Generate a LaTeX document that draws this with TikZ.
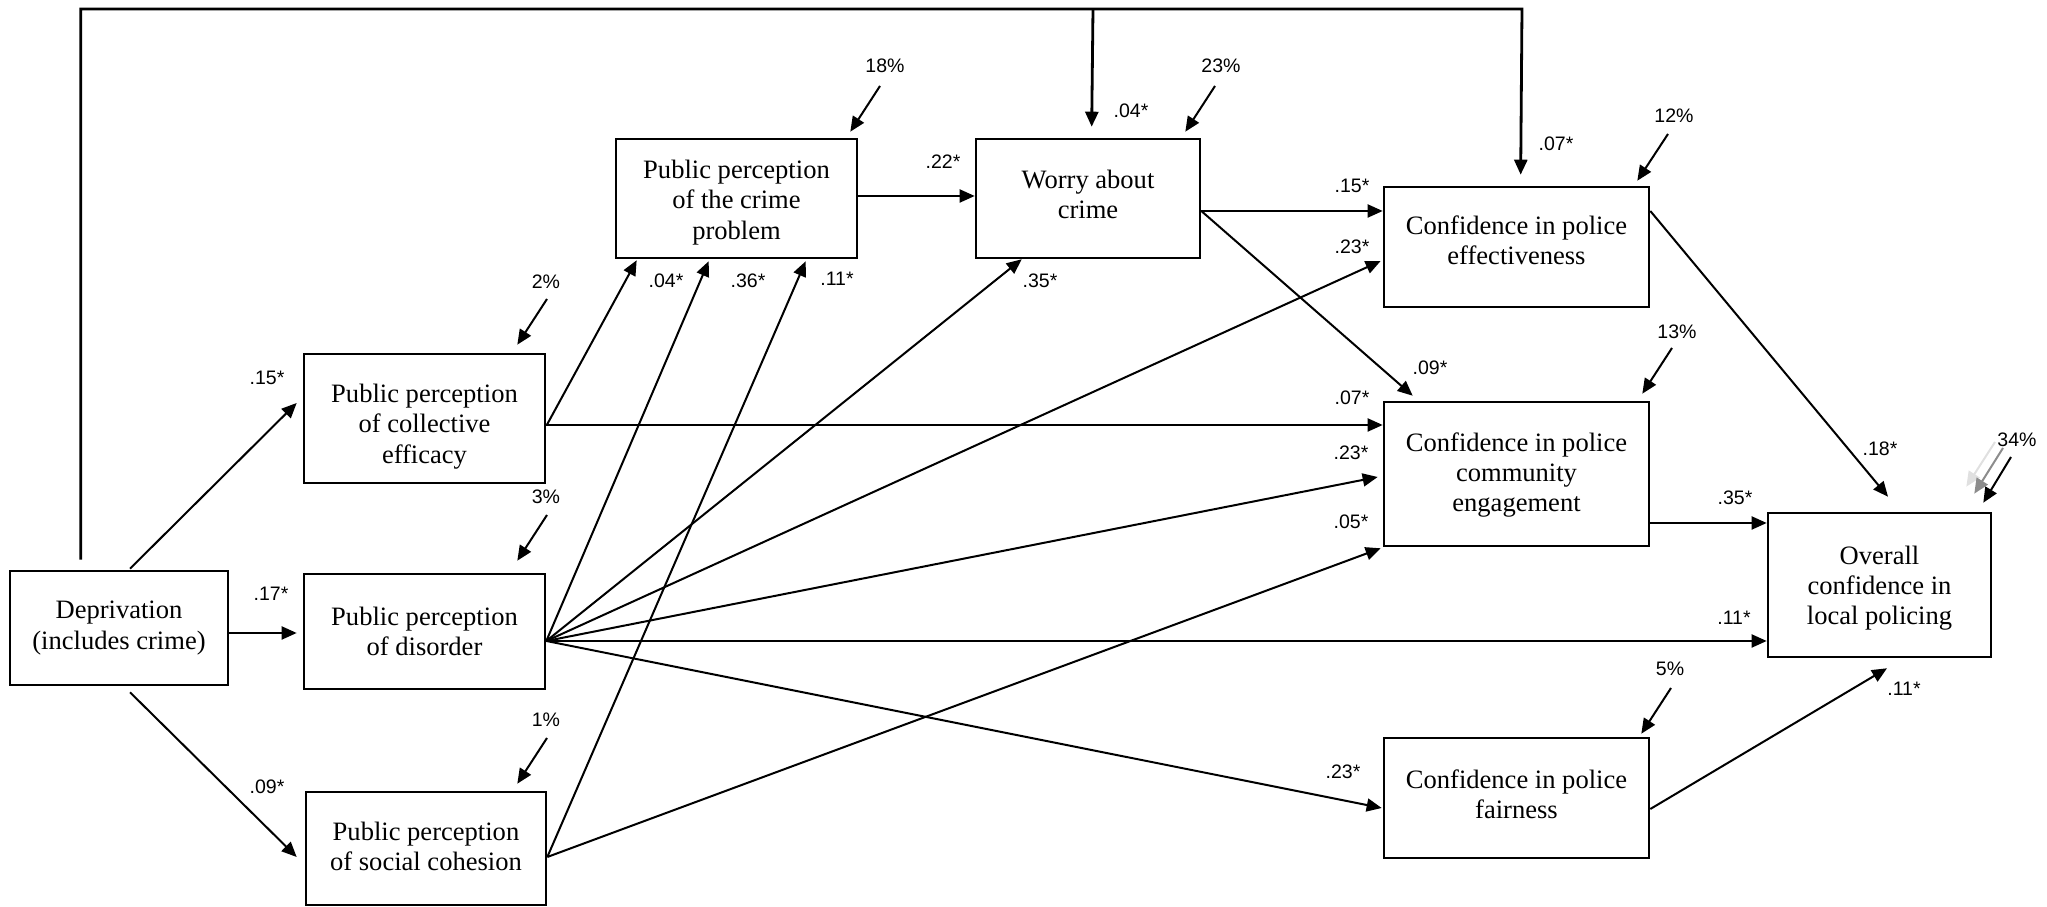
\documentclass[tikz,border=0pt]{standalone}
\usepackage{fontspec}
\setmainfont{Liberation Serif}
\newfontfamily\labfont{Liberation Sans}
\usetikzlibrary{arrows.meta,calc}
\begin{document}
\begin{tikzpicture}[x=0.01cm,y=-0.01cm,
  box/.style={draw,line width=0.025cm,inner sep=0pt},
  btxt/.style={inner sep=0pt,align=center,font=\fontsize{7.55}{8.6}\selectfont},
  lab/.style={inner sep=0pt,font=\labfont\fontsize{5.55}{6.5}\selectfont},
  arr/.style={line width=0.02cm,-{Triangle[length=0.15cm,width=0.13cm]}},
  frame/.style={line width=0.028cm,-{Triangle[length=0.15cm,width=0.13cm]}},
  ghost/.style={line width=0.02cm,-{Triangle[length=0.15cm,width=0.13cm]}}]
\useasboundingbox (0,0) rectangle (2047,907);

% boxes
\node[box,minimum width=2.18cm,minimum height=1.14cm] (dep) at (119,628) {};
\node[box,minimum width=2.41cm,minimum height=1.29cm] (coll) at (424.5,418.5) {};
\node[box,minimum width=2.41cm,minimum height=1.15cm] (dis) at (424.5,631.5) {};
\node[box,minimum width=2.40cm,minimum height=1.13cm] (coh) at (426,848.5) {};
\node[box,minimum width=2.41cm,minimum height=1.19cm] (crime) at (736.5,198.5) {};
\node[box,minimum width=2.24cm,minimum height=1.19cm] (worry) at (1088,198.5) {};
\node[box,minimum width=2.65cm,minimum height=1.20cm] (eff) at (1516.5,247) {};
\node[box,minimum width=2.65cm,minimum height=1.44cm] (eng) at (1516.5,474) {};
\node[box,minimum width=2.65cm,minimum height=1.20cm] (fair) at (1516.5,798) {};
\node[box,minimum width=2.23cm,minimum height=1.44cm] (over) at (1879.5,585) {};

% box texts
\node[btxt] (dept) at ($(dep)+(0,0)$) {Deprivation\\(includes crime)};
\node[btxt] (collt) at ($(coll)+(0,8)$) {Public perception\\of collective\\efficacy};
\node[btxt] (dist) at ($(dis)+(0,0)$) {Public perception\\of disorder};
\node[btxt] (coht) at ($(coh)+(0,-2)$) {Public perception\\of social cohesion};
\node[btxt] (crimet) at ($(crime)+(0,4)$) {Public perception\\of the crime\\problem};
\node[btxt] (worryt) at ($(worry)+(0,-4)$) {Worry about\\crime};
\node[btxt] (efft) at ($(eff)+(0,-7)$) {Confidence in police\\effectiveness};
\node[btxt] (engt) at ($(eng)+(0,1)$) {Confidence in police\\community\\engagement};
\node[btxt] (fairt) at ($(fair)+(0,-4)$) {Confidence in police\\fairness};
\node[btxt] (overt) at ($(over)+(0,3)$) {Overall\\confidence in\\local policing};

% frame line from deprivation
\coordinate (ftop) at (1522,9);
\coordinate (fbr) at (1093,9);
\draw[frame] ($(dep.north west)+(72,-10)$) |- (ftop) -- ($(eff.north west)+(138,-11)$);
\draw[frame] (fbr) -- ($(worry.north west)+(117,-11)$);

% deprivation paths
\draw[arr] ($(dep.north)+(11,-1)$) -- ($(coll.west)+(-6,-15.5)$);
\draw[arr] ($(dep.east)+(0,5)$) -- ($(dis.west)+(-6,1.5)$);
\draw[arr] ($(dep.south)+(11,6)$) -- ($(coh.west)+(-8,8.5)$);

% collective efficacy
\draw[arr] ($(coll.east)+(0.5,6.5)$) -- ($(crime.south west)+(22,1)$);
\draw[arr] ($(coll.east)+(0,6.5)$) -- ($(eng.west)+(0,-49)$);

% disorder fan
\draw[arr] ($(dis.east)+(0,9.5)$) -- ($(crime.south west)+(94,2)$);
\draw[arr] ($(dis.east)+(0,9.5)$) -- ($(worry.south west)+(47,0)$);
\draw[arr] ($(dis.east)+(0,9.5)$) -- ($(eff.west)+(-2,14)$);
\draw[arr] ($(dis.east)+(0,9.5)$) -- ($(eng.west)+(-5,3)$);
\draw[arr] ($(dis.east)+(0,9.5)$) -- ($(over.west)+(0,56)$);
\draw[arr] ($(dis.east)+(0,9.5)$) -- ($(fair.west)+(-1,10)$);

% social cohesion
\draw[arr] ($(coh.east)+(0,8.5)$) -- ($(crime.south west)+(191,2)$);
\draw[arr] ($(coh.east)+(0,8.5)$) -- ($(eng.south west)+(-2,1)$);

% crime problem, worry
\draw[arr] ($(crime.east)+(0,-2.5)$) -- ($(worry.west)+(0,-2.5)$);
\draw[arr] ($(worry.east)+(0,12.5)$) -- ($(eff.west)+(0,-36)$);
\draw[arr] ($(worry.east)+(0,12.5)$) -- ($(eng.north west)+(30,-5)$);

% to overall
\draw[arr] ($(eff.east)+(0,-36)$) -- ($(over.north)+(8.5,-15)$);
\draw[arr] ($(eng.east)+(0,49)$) -- ($(over.west)+(0,-62)$);
\draw[arr] ($(fair.east)+(0,11)$) -- ($(over.south)+(7.5,10)$);

% residual arrows
\coordinate (t1) at (547,299);
\coordinate (t2) at (547,515);
\coordinate (t3) at (547,738);
\coordinate (t4) at (880,86);
\coordinate (t5) at (1215,86);
\coordinate (t6) at (1668,134);
\coordinate (t7) at (1672,348);
\coordinate (t8) at (1671,688);
\coordinate (t9) at (2011,457);
\coordinate (g1) at (1995,442);
\coordinate (g2) at (2003,448);
\draw[arr] (t1) -- ($(coll.north east)+(-29,-8)$);
\draw[arr] (t2) -- ($(dis.north east)+(-29,-12)$);
\draw[arr] (t3) -- ($(coh.north east)+(-30,-7)$);
\draw[arr] (t4) -- ($(crime.north east)+(-8,-6)$);
\draw[arr] (t5) -- ($(worry.north east)+(-16,-6)$);
\draw[arr] (t6) -- ($(eff.north east)+(-13,-5)$);
\draw[arr] (t7) -- ($(eng.north east)+(-8,-7)$);
\draw[arr] (t8) -- ($(fair.north east)+(-9,-3)$);
\draw[ghost,draw=black!12,fill=black!12] (g1) -- ($(over.north east)+(-26,-25)$);
\draw[ghost,draw=black!45,fill=black!45] (g2) -- ($(over.north east)+(-18,-18)$);
\draw[arr] (t9) -- ($(over.north east)+(-9,-9)$);

% residual labels
\node[lab] (p1) at (546,282) {2\%};
\node[lab] (p2) at (546,497) {3\%};
\node[lab] (p3) at (546,720) {1\%};
\node[lab] (p4) at (885,66) {18\%};
\node[lab] (p5) at (1221,66) {23\%};
\node[lab] (p6) at (1674,116) {12\%};
\node[lab] (p7) at (1677,332) {13\%};
\node[lab] (p8) at (1670,669) {5\%};
\node[lab] (p9) at (2017,440) {34\%};

% path coefficients
\node[lab] (c1) at (267,378) {.15*};
\node[lab] (c2) at (271,594) {.17*};
\node[lab] (c3) at (267,787) {.09*};
\node[lab] (c4) at (666,281) {.04*};
\node[lab] (c5) at (748,281) {.36*};
\node[lab] (c6) at (837,279) {.11*};
\node[lab] (c7) at (1040,281) {.35*};
\node[lab] (c8) at (943,162) {.22*};
\node[lab] (c9) at (1131,111) {.04*};
\node[lab] (c10) at (1556,144) {.07*};
\node[lab] (c11) at (1352,186) {.15*};
\node[lab] (c12) at (1352,247) {.23*};
\node[lab] (c13) at (1430,368) {.09*};
\node[lab] (c14) at (1352,398) {.07*};
\node[lab] (c15) at (1351,453) {.23*};
\node[lab] (c16) at (1351,522) {.05*};
\node[lab] (c17) at (1343,772) {.23*};
\node[lab] (c18) at (1880,449) {.18*};
\node[lab] (c19) at (1735,498) {.35*};
\node[lab] (c20) at (1734,618) {.11*};
\node[lab] (c21) at (1904,689) {.11*};
\end{tikzpicture}
\end{document}
